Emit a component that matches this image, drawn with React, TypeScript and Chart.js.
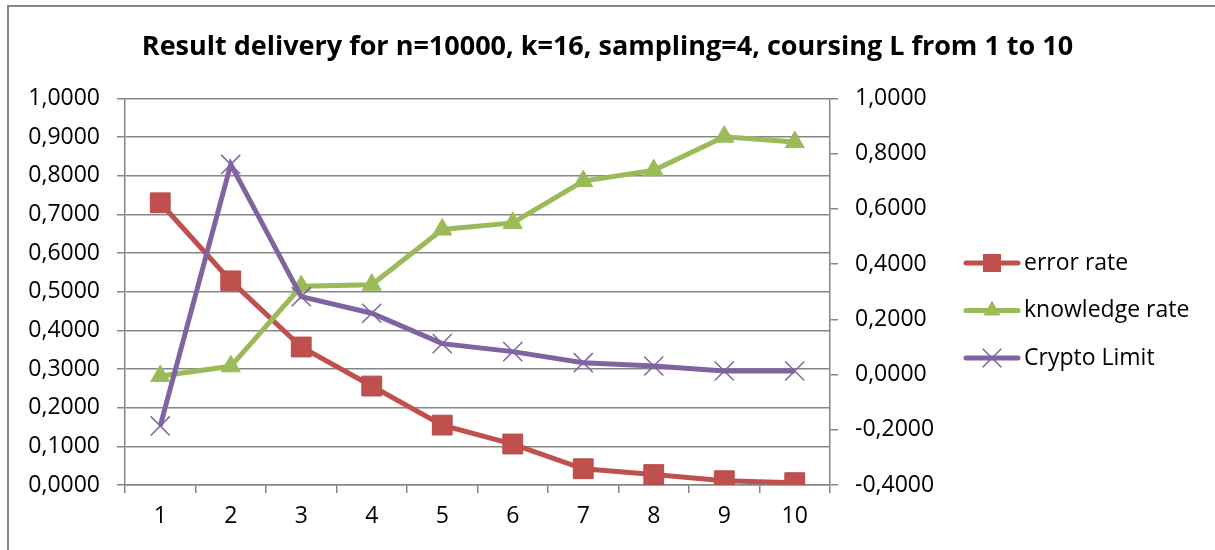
import React, { useEffect, useRef } from 'react';
import { Chart, registerables } from 'chart.js';

Chart.register(...registerables);

const categories = ['1', '2', '3', '4', '5', '6', '7', '8', '9', '10'];
const errorRate = [0.73, 0.528, 0.357, 0.256, 0.155, 0.106, 0.042, 0.027, 0.011, 0.006];
const knowledgeRate = [0.282, 0.307, 0.514, 0.518, 0.661, 0.678, 0.786, 0.814, 0.901, 0.887];
const cryptoLimit = [-0.186, 0.761, 0.282, 0.222, 0.112, 0.083, 0.043, 0.031, 0.013, 0.013];
const seriesNames = ['error rate', 'knowledge rate', 'Crypto Limit'];
const leftAxis = { min: 0, max: 1, step: 0.1 };
const rightAxis = { min: -0.4, max: 1, step: 0.2 };
const titleText = 'Result delivery for n=10000, k=16, sampling=4, coursing L from 1 to 10';

const FONT = '"Open Sans", Lato, "Liberation Sans", sans-serif';
const TICK_SIZE = 23;
const GRID = '#868686';
const RED = '#C0504D';
const GREEN = '#9BBB59';
const PURPLE = '#8064A2';
const LINE_W = 5;

const fmt = (v: number) => {
  const s = Math.abs(v) < 1e-9 ? '0,0000' : v.toFixed(4).replace('.', ',');
  return s;
};

function drawMarker(ctx: CanvasRenderingContext2D, style: string, x: number, y: number, color: string) {
  ctx.save();
  ctx.fillStyle = color;
  ctx.strokeStyle = color;
  if (style === 'rect') {
    const h = 9;
    ctx.fillRect(x - h, y - h, 2 * h, 2 * h);
  } else if (style === 'triangle') {
    const r = 10;
    ctx.beginPath();
    ctx.moveTo(x, y - r);
    ctx.lineTo(x + r * 0.866, y + r * 0.5);
    ctx.lineTo(x - r * 0.866, y + r * 0.5);
    ctx.closePath();
    ctx.fill();
  } else {
    const d = 9;
    ctx.lineWidth = 1.5;
    ctx.beginPath();
    ctx.moveTo(x - d, y - d);
    ctx.lineTo(x + d, y + d);
    ctx.moveTo(x + d, y - d);
    ctx.lineTo(x - d, y + d);
    ctx.stroke();
  }
  ctx.restore();
}

const framePlugin = {
  id: 'frame',
  beforeDraw(chart: any) {
    const ctx = chart.ctx;
    ctx.save();
    ctx.fillStyle = '#ffffff';
    ctx.fillRect(0, 0, chart.width, chart.height);
    ctx.strokeStyle = GRID;
    ctx.lineWidth = 2;
    ctx.beginPath();
    ctx.moveTo(8, chart.height);
    ctx.lineTo(8, 6);
    ctx.lineTo(chart.width, 6);
    ctx.stroke();
    ctx.restore();
  },
};

const legendPlugin = {
  id: 'excelLegend',
  afterDraw(chart: any) {
    const ctx = chart.ctx;
    const ys = [263, 310.5, 358];
    const styles = ['rect', 'triangle', 'crossRot'];
    const colors = [RED, GREEN, PURPLE];
    ctx.save();
    seriesNames.forEach((name, i) => {
      const y = ys[i];
      ctx.strokeStyle = colors[i];
      ctx.lineWidth = LINE_W;
      ctx.lineCap = 'round';
      ctx.beginPath();
      ctx.moveTo(966, y);
      ctx.lineTo(1018, y);
      ctx.stroke();
      drawMarker(ctx, styles[i], 992, y, colors[i]);
      ctx.fillStyle = '#000';
      ctx.font = `${TICK_SIZE}px ${FONT}`;
      ctx.textBaseline = 'middle';
      ctx.textAlign = 'left';
      ctx.fillText(name, 1024, y);
    });
    ctx.restore();
  },
};

export default function App() {
  const ref = useRef<HTMLCanvasElement>(null);
  useEffect(() => {
    document.body.style.margin = '0';
    const canvas = ref.current!;
    const chart = new Chart(canvas, {
      type: 'line',
      data: {
        labels: categories,
        datasets: [
          {
            label: seriesNames[0],
            data: errorRate,
            yAxisID: 'y',
            borderColor: RED,
            backgroundColor: RED,
            borderWidth: LINE_W,
            pointStyle: 'rect',
            pointRadius: 14,
            pointBackgroundColor: RED,
            pointBorderColor: '#B9484A',
            pointBorderWidth: 1,
            tension: 0,
            order: 3,
          },
          {
            label: seriesNames[1],
            data: knowledgeRate,
            yAxisID: 'y',
            borderColor: GREEN,
            backgroundColor: GREEN,
            borderWidth: LINE_W,
            pointStyle: 'triangle',
            pointRadius: 11,
            pointBackgroundColor: GREEN,
            pointBorderColor: GREEN,
            pointBorderWidth: 1,
            tension: 0,
            order: 2,
          },
          {
            label: seriesNames[2],
            data: cryptoLimit,
            yAxisID: 'y1',
            borderColor: PURPLE,
            backgroundColor: PURPLE,
            borderWidth: LINE_W,
            pointStyle: 'crossRot',
            pointRadius: 13.5,
            pointBorderColor: PURPLE,
            pointBorderWidth: 1.5,
            tension: 0,
            order: 1,
          },
        ],
      },
      options: {
        animation: false,
        responsive: false,
        devicePixelRatio: 1,
        layout: { padding: { left: 0, right: 0, top: 0, bottom: 0 } },
        plugins: {
          legend: { display: false },
          tooltip: { enabled: false },
          title: {
            display: true,
            text: titleText,
            color: '#000',
            font: { family: FONT, size: 27, weight: 'bold' },
            padding: { top: 31, bottom: 35 },
          },
        },
        scales: {
          x: {
            type: 'category',
            offset: true,
            grid: {
              display: true,
              drawOnChartArea: false,
              drawTicks: true,
              tickLength: 8,
              color: GRID,
              lineWidth: 1.5,
              offset: true,
            },
            border: { display: true, color: GRID, width: 1.5 },
            ticks: { color: '#000', font: { family: FONT, size: TICK_SIZE }, padding: 10, maxRotation: 0 },
            afterFit: (s: any) => { s.height = 65; },
          },
          y: {
            position: 'left',
            min: leftAxis.min,
            max: leftAxis.max,
            grid: { color: GRID, lineWidth: 1.5, tickLength: 8, drawTicks: true },
            border: { display: true, color: GRID, width: 1.5 },
            ticks: {
              stepSize: leftAxis.step,
              color: '#000',
              font: { family: FONT, size: TICK_SIZE },
              padding: 17,
              callback: (v: any) => fmt(Number(v)),
            },
            afterFit: (s: any) => { s.width = 125; },
          },
          y1: {
            position: 'right',
            min: rightAxis.min,
            max: rightAxis.max,
            grid: { drawOnChartArea: false, color: GRID, lineWidth: 1.5, tickLength: 8, drawTicks: true },
            border: { display: true, color: GRID, width: 1.5 },
            ticks: {
              stepSize: rightAxis.step,
              color: '#000',
              font: { family: FONT, size: TICK_SIZE },
              padding: 17,
              callback: (v: any) => fmt(Number(v)),
            },
            afterFit: (s: any) => { s.width = 385; },
          },
        },
      } as any,
      plugins: [framePlugin, legendPlugin],
    });
    return () => chart.destroy();
  }, []);
  return (
    <div style={{ position: 'absolute', left: 0, top: 0, width: 1215, height: 550 }}>
      <canvas ref={ref} width={1215} height={550} style={{ display: 'block' }} />
    </div>
  );
}
